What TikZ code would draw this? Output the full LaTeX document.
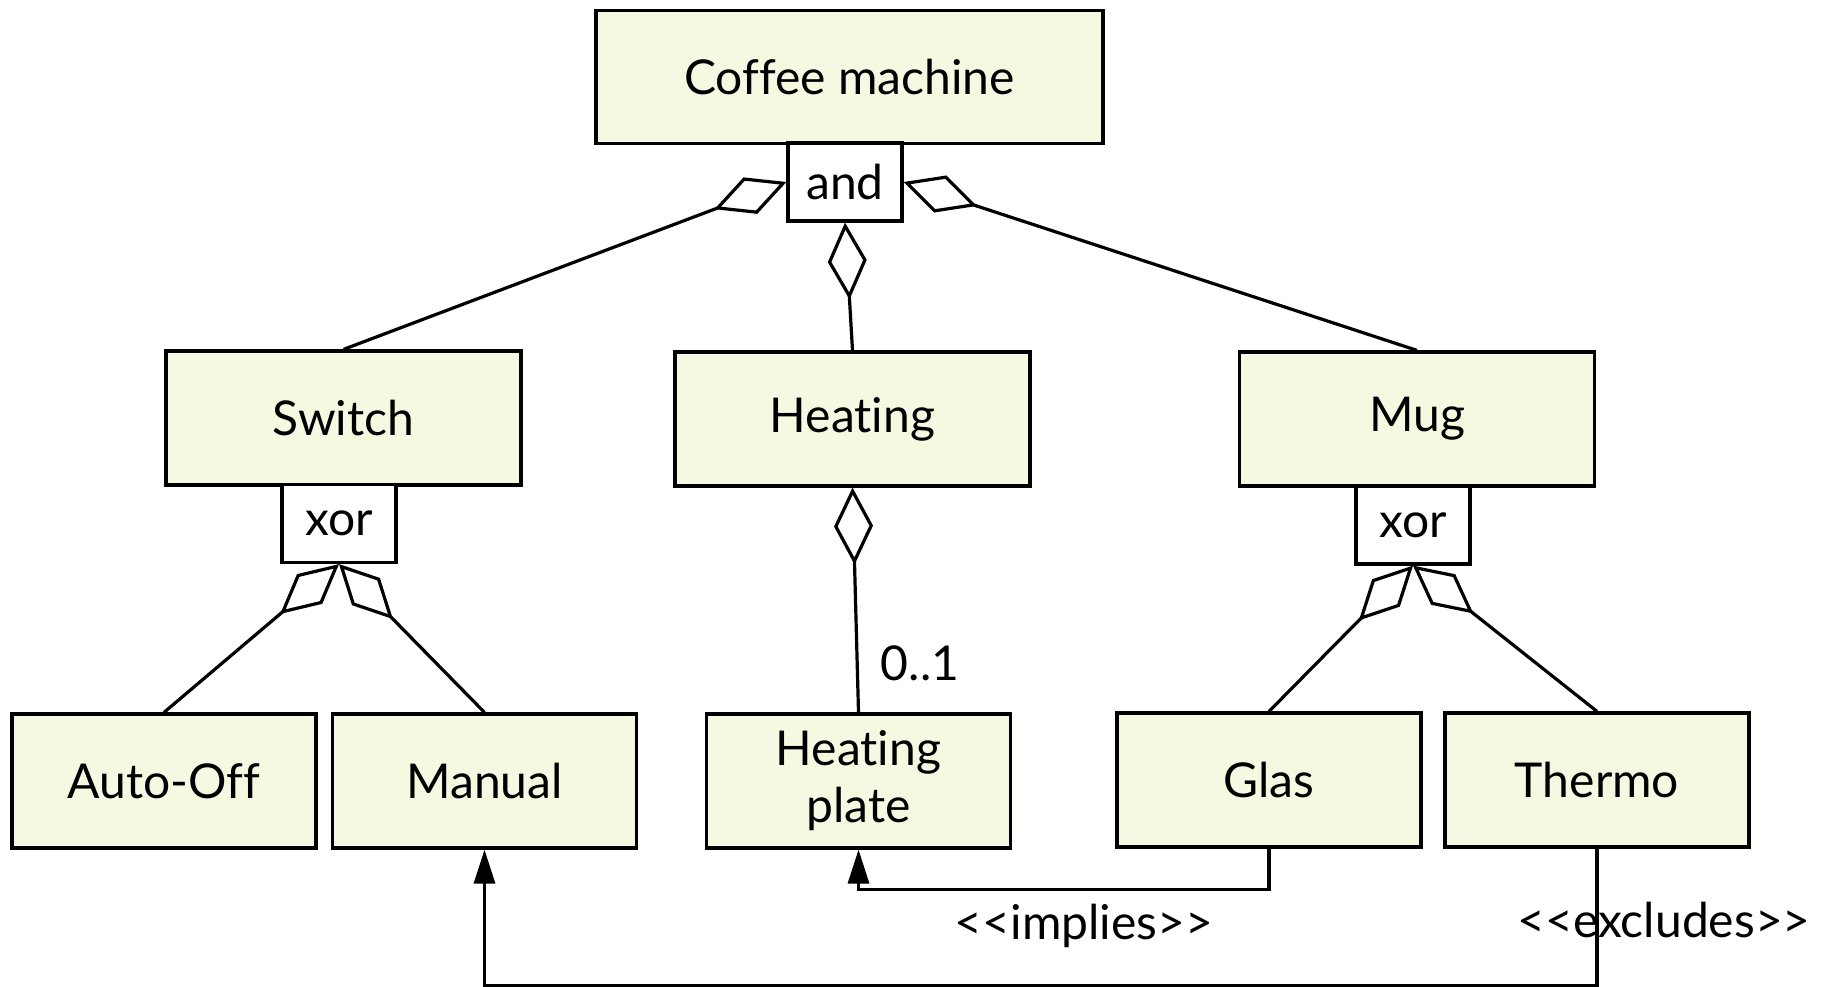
\documentclass[tikz,border=0pt]{standalone}
\usepackage{fontspec}
\setmainfont{Lato}[Ligatures={TeXOff,CommonOff}]
\usepackage{tikz}
\usetikzlibrary{arrows.meta}
\definecolor{featfill}{RGB}{247,248,225}

\begin{document}
\begin{tikzpicture}[x=1pt,y=-1pt,line width=3.2pt,
  font=\fontsize{48}{57}\selectfont,
  feature/.style={draw,fill=featfill,minimum width=304pt,minimum height=134pt,inner sep=0pt,align=center},
  group/.style={draw,fill=white,minimum width=114pt,minimum height=78pt,inner sep=0pt},
  part/.style={-{Diamond[open,length=77pt,width=39pt]}},
  dep/.style={-{Triangle[length=34pt,width=21pt]}}]
\useasboundingbox (0,0) rectangle (1822,987);

\node [feature,minimum width=507pt,minimum height=133pt] (coffee) at (849.5,77) {Coffee machine};
\node [group] (and) at (845,182) {and};

\node [feature,minimum width=355pt] (switch) at (343.5,418) {Switch};
\node [group] (xorl) at (339,523.5) {xor};
\node [feature,minimum width=355pt] (heating) at (852.5,419) {Heating};
\node [feature,minimum width=355pt] (mug) at (1417,419) {Mug};
\node [group] (xorr) at (1413,525) {xor};

\node [feature] (autooff) at (164,781) {Auto-Off};
\node [feature] (manual) at (484.5,781) {Manual};
\node [feature] (plate) at (858.5,781) {Heating\\plate};
\node [feature] (glas) at (1269,780) {Glas};
\node [feature] (thermo) at (1597,780) {Thermo};

\draw[part]  (switch.north)  --  (and.west);
\draw[part]  (heating.north)  --  (and.south);
\draw[part]  (mug.north)  --  (and.east);

\draw[part]  (autooff.north)  --  (xorl.south);
\draw[part]  (manual.north)  --  (xorl.south);
\draw[part]  (plate.north)  --  (heating.south);
\draw[part]  (glas.north)  --  (xorr.south);
\draw[part]  (thermo.north)  --  (xorr.south);

\node (card) at (920,663) {0..1};

\draw[dep]  (glas.south)  --  ++(0,41)  -|  (plate.south);
\draw[dep]  (thermo.south)  --  ++(0,137)  -|  (manual.south);

\node (impl) at (1084,926) {<<implies>>};
\node (excl) at (1664,920) {<<excludes>>};

\end{tikzpicture}
\end{document}
